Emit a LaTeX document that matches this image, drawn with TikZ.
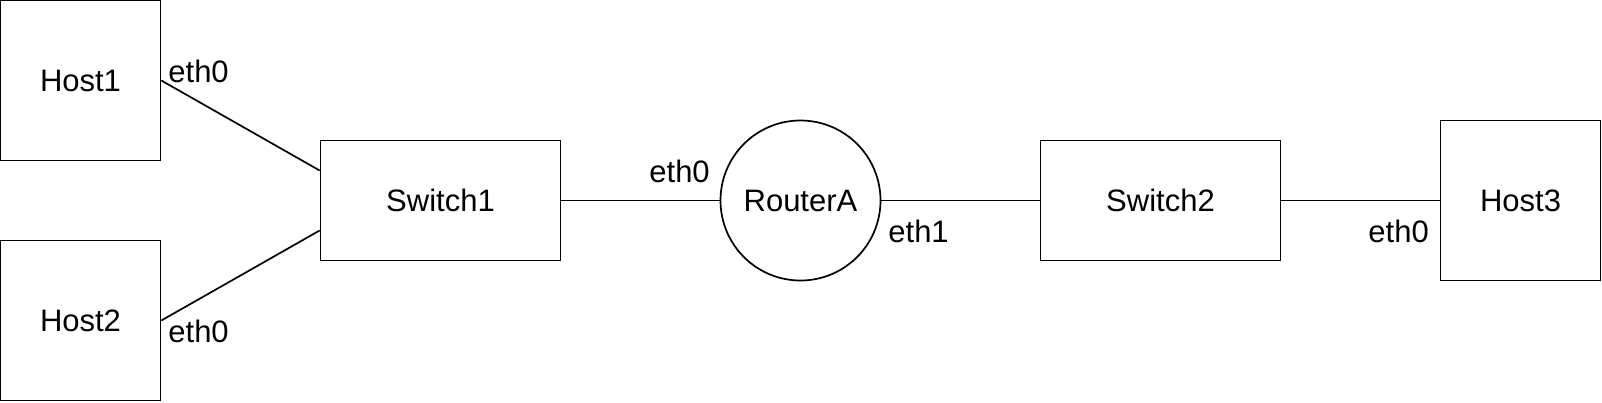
\documentclass[tikz,border=0pt]{standalone}
\usepackage{fontspec}
\setmainfont{Liberation Sans}
\begin{document}
\begin{tikzpicture}[x=0.5pt,y=-0.5pt,
  every node/.style={font=\fontsize{15.5}{18}\selectfont},
  box/.style={draw, line width=0.85pt, inner sep=0pt, minimum width=#1},
  hostbox/.style={box=80pt, minimum height=80pt},
  switchbox/.style={box=120pt, minimum height=60pt},
  routerbox/.style={draw, circle, line width=0.85pt, inner sep=0pt, minimum size=80pt},
  port/.style={anchor=base west, inner sep=0pt},
  link/.style={line width=0.85pt}]
\useasboundingbox (0,0) rectangle (1602,402);
\node[hostbox] (h1) at (80.5,80.5) {Host1};
\node[hostbox] (h2) at (80.5,320.5) {Host2};
\node[switchbox] (s1) at (440.5,200.5) {Switch1};
\node[routerbox] (r) at (800.5,200.5) {RouterA};
\node[switchbox] (s2) at (1160.5,200.5) {Switch2};
\node[hostbox] (h3) at (1520.5,200.5) {Host3};
\coordinate (s1a) at ([yshift=15pt]s1.west);
\coordinate (s1b) at ([yshift=-15pt]s1.west);
\draw[link] (h1.east) -- (s1a);
\draw[link] (h2.east) -- (s1b);
\draw[link] (s1.east) -- (r.west);
\draw[link] (r.east) -- (s2.west);
\draw[link] (s2.east) -- (h3.west);
\node[port] (l1) at (168,82) {eth0};
\node[port] (l2) at (168,342) {eth0};
\node[port] (l3) at (649,182) {eth0};
\node[port] (l4) at (888,242) {eth1};
\node[port] (l5) at (1368,242) {eth0};
\end{tikzpicture}
\end{document}
